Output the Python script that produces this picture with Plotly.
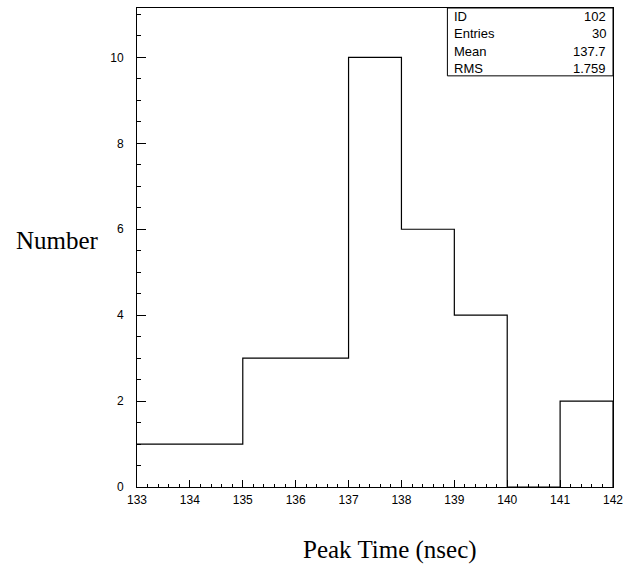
import plotly.graph_objects as go
import numpy as np

# Data
bin_edges = [133, 134, 135, 136, 137, 138, 139, 140, 141, 142]
counts = [1, 1, 3, 3, 10, 6, 4, 0, 2]
hist_id = 102
x_title = "Peak Time (nsec)"
y_title = "Number"
x_ticks = list(range(133, 143))
y_ticks = [0, 2, 4, 6, 8, 10]

# stats
centers = [(a + b) / 2 for a, b in zip(bin_edges[:-1], bin_edges[1:])]
n = sum(counts)
mean = sum(c * w for c, w in zip(centers, counts)) / n
rms = np.sqrt(sum(w * (c - mean) ** 2 for c, w in zip(centers, counts)) / n)
stat_labels = ["ID", "Entries", "Mean", "RMS"]
stat_values = [str(hist_id), str(n), f"{mean:.4g}", f"{rms:.4g}"]

W, H = 630, 569
L, R, T, B = 137, 13, 7, 82
pw, ph = W - L - R, H - T - B

xs = list(bin_edges) + [bin_edges[-1]]
ys = list(counts) + [counts[-1], 0]

fig = go.Figure()
fig.add_trace(go.Scatter(x=xs, y=ys, mode="lines", line=dict(shape="hv", color="black", width=1.2),
                         hoverinfo="skip", showlegend=False))

tickfont = dict(family="Liberation Sans, Arial, sans-serif", size=12, color="black")
fig.update_xaxes(range=[133, 142], tickvals=x_ticks, ticks="inside", ticklen=7, tickwidth=1, tickcolor="black",
                 showline=True, linecolor="black", linewidth=1, mirror=True, showgrid=False, zeroline=False,
                 tickfont=tickfont, ticklabelstandoff=2,
                 minor=dict(dtick=0.2, tick0=133, ticks="inside", ticklen=3, tickcolor="black", tickwidth=1, showgrid=False))
fig.update_yaxes(range=[0, 11.15], tickvals=y_ticks, ticks="inside", ticklen=9, tickwidth=1, tickcolor="black",
                 showline=True, linecolor="black", linewidth=1, mirror=True, showgrid=False, zeroline=False,
                 tickfont=tickfont, ticklabelstandoff=10,
                 minor=dict(dtick=0.5, tick0=0, ticks="inside", ticklen=4, tickcolor="black", tickwidth=1, showgrid=False))

def px_x(x):
    return (x - L) / pw
def px_y(y):
    return (H - B - y) / ph

# stat box
fig.add_shape(type="rect", xref="paper", yref="paper", x0=px_x(450), x1=1, y0=px_y(75), y1=1,
              line=dict(color="black", width=1), fillcolor="white", layer="above")
statfont = dict(family="Liberation Sans, Arial, sans-serif", size=13, color="black")
row_y = [16, 33, 51, 68]
for lab, val, ry in zip(stat_labels, stat_values, row_y):
    fig.add_annotation(xref="paper", yref="paper", x=px_x(455), y=px_y(ry), text=lab, showarrow=False,
                       xanchor="left", yanchor="middle", font=statfont)
    fig.add_annotation(xref="paper", yref="paper", x=px_x(612), y=px_y(ry), text=val, showarrow=False,
                       xanchor="right", yanchor="middle", font=statfont)

titlefont = dict(family="Liberation Serif, Times New Roman, serif", size=25, color="black")
fig.add_annotation(xref="paper", yref="paper", x=px_x(57), y=px_y(240), text=y_title, showarrow=False,
                   xanchor="center", yanchor="middle", font=titlefont)
fig.add_annotation(xref="paper", yref="paper", x=px_x(392), y=px_y(550), text=x_title, showarrow=False,
                   xanchor="center", yanchor="middle", font=titlefont)

fig.update_layout(width=W, height=H, margin=dict(l=L, r=R, t=T, b=B, pad=0),
                  plot_bgcolor="white", paper_bgcolor="white", showlegend=False)

fig.write_html("out.html")
